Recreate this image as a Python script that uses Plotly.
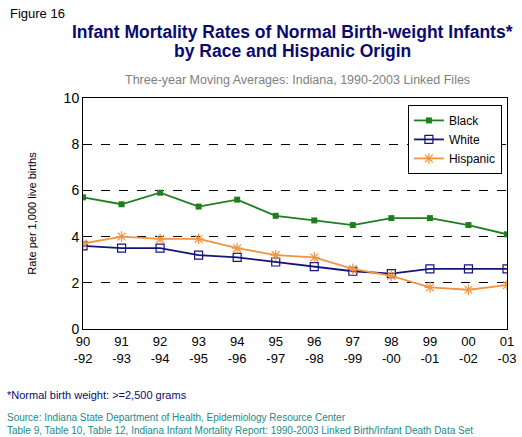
import plotly.graph_objects as go

periods = ["90<br>-92", "91<br>-93", "92<br>-94", "93<br>-95", "94<br>-96", "95<br>-97",
           "96<br>-98", "97<br>-99", "98<br>-00", "99<br>-01", "00<br>-02", "01<br>-03"]
black = [5.7, 5.4, 5.9, 5.3, 5.6, 4.9, 4.7, 4.5, 4.8, 4.8, 4.5, 4.1]
white = [3.6, 3.5, 3.5, 3.2, 3.1, 2.9, 2.7, 2.5, 2.4, 2.6, 2.6, 2.6]
hispanic = [3.7, 4.0, 3.9, 3.9, 3.5, 3.2, 3.1, 2.6, 2.3, 1.8, 1.7, 1.9]
y_ticks = [0, 2, 4, 6, 8, 10]

FONT = "Liberation Sans, Arial, sans-serif"
xs = list(range(len(periods)))

fig = go.Figure()
fig.add_trace(go.Scatter(x=xs, y=black, name="Black", mode="lines+markers",
                         line=dict(color="#1f7f1f", width=1.8),
                         marker=dict(symbol="square", size=6, color="#1f7f1f")))
fig.add_trace(go.Scatter(x=xs, y=white, name="White", mode="lines+markers",
                         line=dict(color="#14147a", width=1.8),
                         marker=dict(symbol="square-open", size=8, color="#14147a",
                                     line=dict(width=1.2, color="#14147a"))))
fig.add_trace(go.Scatter(x=xs, y=hispanic, name="Hispanic", mode="lines+markers",
                         line=dict(color="#f39440", width=1.8),
                         marker=dict(symbol="asterisk-open", size=9, color="#f39440",
                                     line=dict(width=1.2, color="#f39440"))))

fig.update_layout(
    width=522, height=437,
    margin=dict(l=83, r=15, t=98, b=108, autoexpand=False),
    paper_bgcolor="white", plot_bgcolor="white",
    font=dict(family=FONT, color="black"),
    showlegend=True,
    legend=dict(x=0.988, y=0.97, xanchor="right", yanchor="top",
                bgcolor="white", bordercolor="black", borderwidth=1,
                font=dict(size=12, family=FONT, color="black"),
                itemwidth=30, tracegroupgap=0),
    xaxis=dict(range=[0, 11], tickmode="array", tickvals=xs, ticktext=periods,
               showgrid=False, zeroline=False, showline=True, linecolor="black",
               linewidth=1, mirror=True, ticks="", tickfont=dict(size=13, family=FONT)),
    yaxis=dict(range=[0, 10], tickmode="array", tickvals=y_ticks,
               showgrid=True, gridcolor="black", griddash="dash", gridwidth=1,
               zeroline=False, showline=True, linecolor="black", linewidth=1,
               mirror=True, ticks="inside", ticklen=3, tickcolor="black",
               tickfont=dict(size=14, family=FONT),
               title=dict(text="Rate per 1,000 live births", font=dict(size=11, family=FONT),
                          standoff=24)),
)

fig.add_annotation(text="Figure 16", xref="paper", yref="paper", x=-0.178, y=1.364,
                   xanchor="left", yanchor="middle", showarrow=False,
                   font=dict(size=13, family=FONT, color="black"))
fig.add_annotation(text="<b>Infant Mortality Rates of Normal Birth-weight Infants*</b>",
                   xref="paper", yref="paper", x=0.494, y=1.287, xanchor="center",
                   yanchor="middle", showarrow=False,
                   font=dict(size=17.5, family=FONT, color="#0a0a6e"))
fig.add_annotation(text="<b>by Race and Hispanic Origin</b>",
                   xref="paper", yref="paper", x=0.494, y=1.205, xanchor="center",
                   yanchor="middle", showarrow=False,
                   font=dict(size=17.5, family=FONT, color="#0a0a6e"))
fig.add_annotation(text="Three-year Moving Averages: Indiana, 1990-2003 Linked Files",
                   xref="paper", yref="paper", x=0.505, y=1.08, xanchor="center",
                   yanchor="middle", showarrow=False,
                   font=dict(size=12.5, family=FONT, color="#808080"))
fig.add_annotation(text="*Normal birth weight: >=2,500 grams",
                   xref="paper", yref="paper", x=-0.183, y=-0.285, xanchor="left",
                   yanchor="middle", showarrow=False,
                   font=dict(size=11, family=FONT, color="#0a0a6e"))
fig.add_annotation(text="Source: Indiana State Department of Health, Epidemiology Resource Center",
                   xref="paper", yref="paper", x=-0.183, y=-0.385, xanchor="left",
                   yanchor="middle", showarrow=False,
                   font=dict(size=10, family=FONT, color="#1a8a8a"))
fig.add_annotation(text="Table 9, Table 10, Table 12, Indiana Infant Mortality Report: 1990-2003 Linked Birth/Infant Death Data Set",
                   xref="paper", yref="paper", x=-0.183, y=-0.44, xanchor="left",
                   yanchor="middle", showarrow=False,
                   font=dict(size=10, family=FONT, color="#1a8a8a"))

fig.write_html("out.html", config={"displayModeBar": False},
               post_script="document.body.style.margin='0';document.body.style.overflow='hidden';")
